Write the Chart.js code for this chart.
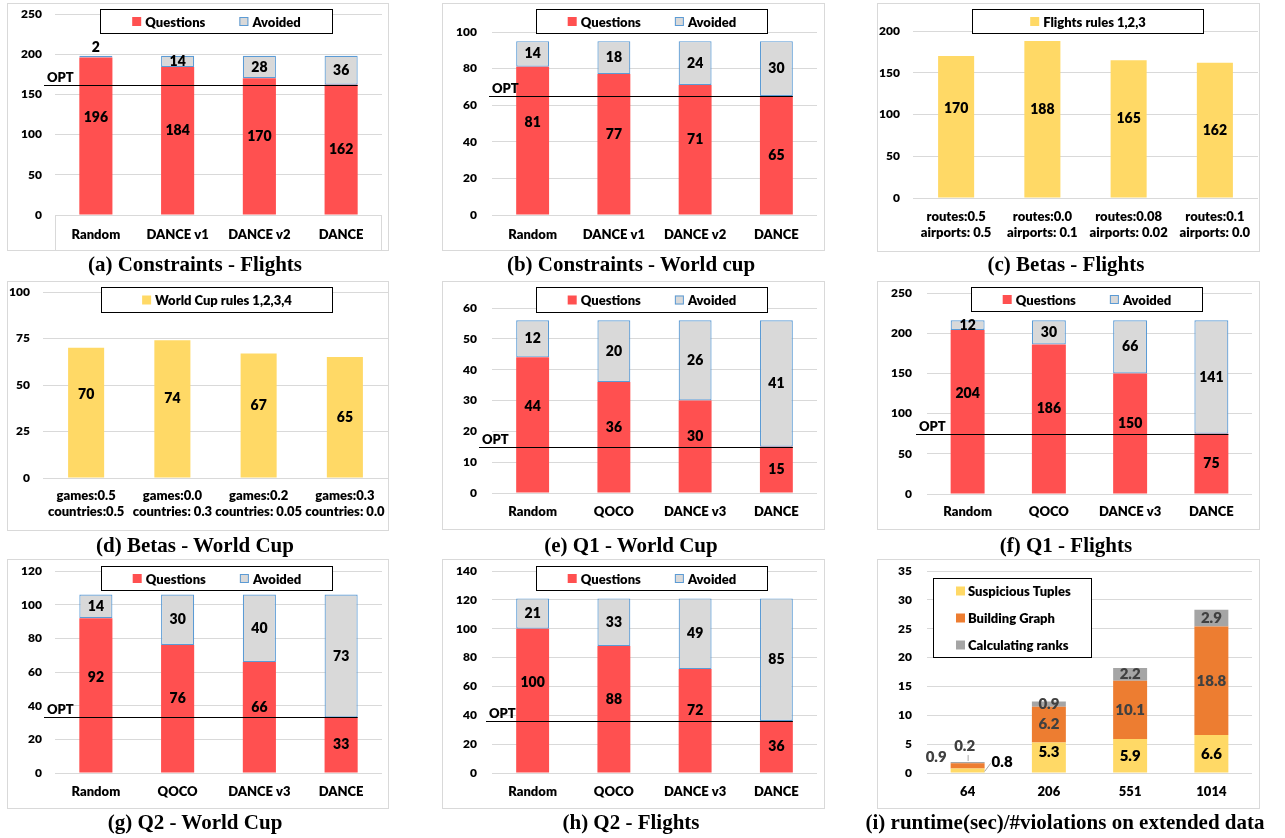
<!DOCTYPE html>
<html>
<head>
<meta charset="utf-8">
<script src="https://cdn.jsdelivr.net/npm/chart.js@4.4.1/dist/chart.umd.min.js"></script>
<style>
  html, body { margin: 0; padding: 0; background: #fff; }
  body { position: relative; width: 1285px; height: 838px; overflow: hidden; }
  canvas { position: absolute; }
  .frame { position: absolute; box-sizing: border-box; border: 1px solid #d9d9d9; pointer-events: none; }
  .cap { position: absolute; font: bold 21px "Liberation Serif", "DejaVu Serif", serif; line-height: 24px;
         color: #000; white-space: nowrap; transform: translateX(-50%); }
</style>
</head>
<body>
<script>
// ---- categories ----
const methodsConstraints = ['Random', 'DANCE v1', 'DANCE v2', 'DANCE'];
const methodsQueries = ['Random', 'QOCO', 'DANCE v3', 'DANCE'];
const betasFlights = [['routes:0.5', 'airports: 0.5'], ['routes:0.0', 'airports: 0.1'],
                      ['routes:0.08', 'airports: 0.02'], ['routes:0.1', 'airports: 0.0']];
const betasWorldCup = [['games:0.5', 'countries:0.5'], ['games:0.0', 'countries: 0.3'],
                       ['games:0.2', 'countries: 0.05'], ['games:0.3', 'countries: 0.0']];
const violations = ['64', '206', '551', '1014'];

// ---- series values ----
const constraintsFlightsQuestions = [196, 184, 170, 162];
const constraintsFlightsAvoided = [2, 14, 28, 36];
const constraintsFlightsOpt = 162;

const constraintsWorldCupQuestions = [81, 77, 71, 65];
const constraintsWorldCupAvoided = [14, 18, 24, 30];
const constraintsWorldCupOpt = 65;

const betasFlightsValues = [170, 188, 165, 162];
const betasWorldCupValues = [70, 74, 67, 65];

const q1WorldCupQuestions = [44, 36, 30, 15];
const q1WorldCupAvoided = [12, 20, 26, 41];
const q1WorldCupOpt = 15;

const q1FlightsQuestions = [204, 186, 150, 75];
const q1FlightsAvoided = [12, 30, 66, 141];
const q1FlightsOpt = 75;

const q2WorldCupQuestions = [92, 76, 66, 33];
const q2WorldCupAvoided = [14, 30, 40, 73];
const q2WorldCupOpt = 33;

const q2FlightsQuestions = [100, 88, 72, 36];
const q2FlightsAvoided = [21, 33, 49, 85];
const q2FlightsOpt = 36;

const runtimeSuspicious = [0.8, 5.3, 5.9, 6.6];
const runtimeGraph = [0.9, 6.2, 10.1, 18.8];
const runtimeRanks = [0.2, 0.9, 2.2, 2.9];

// ---- y-axis ticks (max, step) ----
const yConstraintsFlights = [250, 50];
const yConstraintsWorldCup = [100, 20];
const yBetasFlights = [200, 50];
const yBetasWorldCup = [100, 25];
const yQ1WorldCup = [60, 10];
const yQ1Flights = [250, 50];
const yQ2WorldCup = [120, 20];
const yQ2Flights = [140, 20];
const yRuntime = [35, 5];

// ---- colours & type ----
const GRID = '#d9d9d9';
const RED = '#ff5050', GREY = '#d9d9d9', BLUE = '#5b9bd5';
const GOLD = '#ffd966', ORANGE = '#ed7d31', ASH = '#a5a5a5';
const FONT = 'Lato, "Open Sans", sans-serif';
const W_HEAVY = 800;

function questionSets(q, a) {
  return [
    { label: 'Questions', data: q, backgroundColor: RED, borderWidth: 0, inflateAmount: 0 },
    { label: 'Avoided', data: a, backgroundColor: GREY, borderColor: BLUE, borderWidth: 1.2,
      borderSkipped: false, inflateAmount: 0 }
  ];
}

function drawLegend(chart, L, originX, originY) {
  const ctx = chart.ctx;
  const x0 = L.rect[0] - originX, y0 = L.rect[1] - originY;
  const x1 = L.rect[2] - originX, y1 = L.rect[3] - originY;
  ctx.fillStyle = '#fff';
  ctx.fillRect(x0, y0, x1 - x0, y1 - y0);
  ctx.strokeStyle = '#000';
  ctx.lineWidth = 1;
  ctx.strokeRect(x0 + 0.5, y0 + 0.5, x1 - x0 - 1, y1 - y0 - 1);
  ctx.font = `${W_HEAVY} 13px ${FONT}`;
  ctx.textBaseline = 'middle';
  ctx.textAlign = 'left';
  const items = chart.data.datasets.map(d => ({
    text: d.label, fill: d.backgroundColor, stroke: d.borderWidth ? d.borderColor : null
  }));
  const sw = 9;
  const swatch = (it, x, cy) => {
    ctx.fillStyle = it.fill;
    ctx.fillRect(x, cy - sw / 2, sw, sw);
    if (it.stroke) {
      ctx.strokeStyle = it.stroke;
      ctx.strokeRect(x + 0.5, cy - sw / 2 + 0.5, sw - 1, sw - 1);
    }
  };
  if (L.vertical) {
    items.forEach((it, k) => {
      const cy = y0 + L.rowTop + k * L.rowGap;
      swatch(it, x0 + L.swatchX, cy);
      ctx.fillStyle = '#000';
      ctx.fillText(it.text, x0 + L.textX, cy + 1);
    });
  } else {
    const gapText = 4, gapItem = 34;
    const widths = items.map(it => sw + gapText + ctx.measureText(it.text).width);
    const total = widths.reduce((s, w) => s + w, 0) + gapItem * (items.length - 1);
    let x = (x0 + x1) / 2 - total / 2;
    const cy = (y0 + y1) / 2;
    items.forEach((it, k) => {
      swatch(it, x, cy);
      ctx.fillStyle = '#000';
      ctx.fillText(it.text, x + sw + gapText, cy + 1);
      x += widths[k] + gapItem;
    });
  }
}

// OPT line, value labels, legend box and the category-axis frame
const decor = {
  id: 'decor',
  afterDatasetsDraw(chart, _args, o) {
    const ctx = chart.ctx, area = chart.chartArea, ys = chart.scales.y;
    ctx.save();
    if (o.axisBox) {
      ctx.strokeStyle = GRID;
      ctx.lineWidth = 1;
      ctx.beginPath();
      ctx.moveTo(area.left + 0.5, area.bottom);
      ctx.lineTo(area.left + 0.5, chart.height);
      ctx.moveTo(area.right - 0.5, area.bottom);
      ctx.lineTo(area.right - 0.5, chart.height);
      ctx.stroke();
    }
    if (o.opt != null) {
      const meta = chart.getDatasetMeta(0);
      const last = meta.data[meta.data.length - 1];
      const y = Math.round(ys.getPixelForValue(o.opt)) + 0.5;
      const xs = area.left + o.optStart;
      ctx.strokeStyle = '#000';
      ctx.lineWidth = 1;
      ctx.beginPath();
      ctx.moveTo(xs, y);
      ctx.lineTo(last.x + last.width / 2, y);
      ctx.stroke();
      ctx.fillStyle = '#000';
      ctx.font = `${W_HEAVY} 13px ${FONT}`;
      ctx.textAlign = 'left';
      ctx.textBaseline = 'alphabetic';
      ctx.fillText('OPT', xs + 3, y - 4);
    }
    ctx.font = o.labelFont;
    ctx.textBaseline = 'middle';
    chart.data.datasets.forEach((ds, di) => {
      const meta = chart.getDatasetMeta(di);
      meta.data.forEach((bar, i) => {
        const v = ds.data[i];
        const top = Math.min(bar.y, bar.base), bot = Math.max(bar.y, bar.base);
        const cx = bar.x, cy = (top + bot) / 2, half = bar.width / 2;
        const txt = o.decimals ? v.toFixed(o.decimals) : String(v);
        ctx.fillStyle = o.labelColors[di];
        const outside = o.outsideCats ? o.outsideCats.includes(i) : (bot - top < 6);
        if (!outside) {
          const lift = (o.lift && o.lift[di]) ? o.lift[di][i] : 0;
          ctx.textAlign = 'center';
          ctx.fillText(txt, cx, cy - lift);
          return;
        }
        const side = (o.outside && o.outside[di]) || 'above';
        ctx.strokeStyle = '#a6a6a6';
        ctx.lineWidth = 1;
        if (side === 'above') {
          ctx.textAlign = 'center';
          ctx.fillText(txt, cx, top - 8);
        } else if (side === 'aboveLeader') {
          ctx.beginPath();
          ctx.moveTo(cx + 0.5, top - 1);
          ctx.lineTo(cx + 0.5, top - 7);
          ctx.stroke();
          ctx.textAlign = 'center';
          ctx.fillText(txt, cx - 3, top - 16);
        } else if (side === 'rightLeader') {
          ctx.beginPath();
          ctx.moveTo(cx + half, cy + 1);
          ctx.lineTo(cx + half + 6, cy - 7);
          ctx.stroke();
          ctx.textAlign = 'left';
          ctx.fillText(txt, cx + half + 7, cy - 8);
        } else if (side === 'left') {
          ctx.textAlign = 'right';
          ctx.fillText(txt, cx - half - 4, cy - 9);
        }
      });
    });
    if (o.legend) drawLegend(chart, o.legend, o.originX, o.originY);
    ctx.restore();
  }
};

function panel(s) {
  const [bx0, by0, bx1, by1] = s.box;
  const [px0, py0, px1, py1] = s.plot;
  const W = bx1 - bx0, H = by1 - by0;

  const cv = document.createElement('canvas');
  cv.width = W; cv.height = H;
  cv.style.cssText = `left:${bx0}px;top:${by0}px;width:${W}px;height:${H}px`;
  document.body.appendChild(cv);

  const fr = document.createElement('div');
  fr.className = 'frame';
  fr.style.cssText = `left:${bx0}px;top:${by0}px;width:${W + 1}px;height:${H + 1}px`;
  document.body.appendChild(fr);

  const cap = document.createElement('div');
  cap.className = 'cap';
  cap.textContent = s.caption;
  cap.style.left = s.capAt[0] + 'px';
  cap.style.top = (s.capAt[1] - 12) + 'px';
  document.body.appendChild(cap);

  new Chart(cv, {
    type: 'bar',
    data: { labels: s.labels, datasets: s.datasets },
    options: {
      responsive: false,
      animation: false,
      devicePixelRatio: 1,
      layout: { padding: { left: 0, right: bx1 - px1, top: py0 - by0, bottom: 0 } },
      datasets: { bar: { barPercentage: s.barPct, categoryPercentage: 1, inflateAmount: 0 } },
      plugins: {
        legend: { display: false },
        tooltip: { enabled: false },
        decor: Object.assign({ originX: bx0, originY: by0 }, s.decor)
      },
      scales: {
        x: {
          stacked: true,
          grid: { display: false, drawTicks: false },
          border: { display: false },
          ticks: {
            color: '#000', padding: s.xPad, maxRotation: 0, autoSkip: false,
            font: { family: FONT, weight: W_HEAVY, size: 13, lineHeight: 1.2 }
          },
          afterFit(sc) { sc.height = by1 - py1; sc.paddingLeft = 0; sc.paddingRight = 0; }
        },
        y: {
          stacked: true,
          min: 0,
          max: s.y[0],
          grid: { color: GRID, lineWidth: 1, drawTicks: false },
          border: { display: false },
          ticks: {
            stepSize: s.y[1], color: '#000', padding: s.tickPad,
            font: { family: FONT, weight: W_HEAVY, size: 12 }
          },
          afterFit(sc) { sc.width = px0 - bx0; sc.paddingTop = 0; sc.paddingBottom = 0; }
        }
      }
    },
    plugins: [decor]
  });
}

const QLIFT = [[18, 10, 10, 0]];
const QCOLORS = ['#000', '#000'];
const LABEL14 = `${W_HEAVY} 14px ${FONT}`;

function build() {
  panel({
    caption: '(a) Constraints - Flights', capAt: [195, 264],
    box: [7, 3, 388, 250], plot: [55, 14, 382, 215], tickPad: 13, xPad: 12, barPct: 0.405,
    labels: methodsConstraints, y: yConstraintsFlights,
    datasets: questionSets(constraintsFlightsQuestions, constraintsFlightsAvoided),
    decor: { opt: constraintsFlightsOpt, optStart: -11, lift: QLIFT, labelColors: QCOLORS, labelFont: LABEL14,
             axisBox: true, legend: { rect: [100, 9, 333, 34] } }
  });
  panel({
    caption: '(b) Constraints - World cup', capAt: [631, 264],
    box: [442, 3, 824, 250], plot: [492, 32, 817, 215], tickPad: 15, xPad: 12, barPct: 0.405,
    labels: methodsConstraints, y: yConstraintsWorldCup,
    datasets: questionSets(constraintsWorldCupQuestions, constraintsWorldCupAvoided),
    decor: { opt: constraintsWorldCupOpt, optStart: -3, lift: QLIFT, labelColors: QCOLORS, labelFont: LABEL14,
             legend: { rect: [536, 9, 768, 34] } }
  });
  panel({
    caption: '(c) Betas - Flights', capAt: [1066, 264],
    box: [877, 3, 1259, 251], plot: [913, 31, 1258, 198], tickPad: 13, xPad: 11, barPct: 0.418,
    labels: betasFlights, y: yBetasFlights,
    datasets: [{ label: 'Flights rules 1,2,3', data: betasFlightsValues, backgroundColor: GOLD, borderWidth: 0 }],
    decor: { lift: QLIFT, labelColors: QCOLORS, labelFont: LABEL14, legend: { rect: [972, 9, 1204, 34] } }
  });
  panel({
    caption: '(d) Betas - World Cup', capAt: [195, 545],
    box: [7, 281, 388, 530], plot: [43, 292, 388, 478], tickPad: 13, xPad: 10, barPct: 0.418,
    labels: betasWorldCup, y: yBetasWorldCup,
    datasets: [{ label: 'World Cup rules 1,2,3,4', data: betasWorldCupValues, backgroundColor: GOLD, borderWidth: 0 }],
    decor: { lift: QLIFT, labelColors: QCOLORS, labelFont: LABEL14, legend: { rect: [101, 287, 333, 313] } }
  });
  panel({
    caption: '(e) Q1 - World Cup', capAt: [631, 545],
    box: [442, 281, 824, 529], plot: [492, 308, 817, 493], tickPad: 15, xPad: 11, barPct: 0.405,
    labels: methodsQueries, y: yQ1WorldCup,
    datasets: questionSets(q1WorldCupQuestions, q1WorldCupAvoided),
    decor: { opt: q1WorldCupOpt, optStart: -13, lift: QLIFT, labelColors: QCOLORS, labelFont: LABEL14,
             legend: { rect: [536, 287, 768, 313] } }
  });
  panel({
    caption: '(f) Q1 - Flights', capAt: [1066, 545],
    box: [877, 281, 1259, 529], plot: [927, 293, 1252, 494], tickPad: 15, xPad: 10, barPct: 0.418,
    labels: methodsQueries, y: yQ1Flights,
    datasets: questionSets(q1FlightsQuestions, q1FlightsAvoided),
    decor: { opt: q1FlightsOpt, optStart: -11, lift: QLIFT, labelColors: QCOLORS, labelFont: LABEL14,
             legend: { rect: [971, 287, 1203, 312] } }
  });
  panel({
    caption: '(g) Q2 - World Cup', capAt: [195, 822],
    box: [7, 559, 388, 808], plot: [55, 571, 382, 773], tickPad: 13, xPad: 11, barPct: 0.405,
    labels: methodsQueries, y: yQ2WorldCup,
    datasets: questionSets(q2WorldCupQuestions, q2WorldCupAvoided),
    decor: { opt: q2WorldCupOpt, optStart: -11, lift: QLIFT, labelColors: QCOLORS, labelFont: LABEL14,
             legend: { rect: [101, 566, 333, 591] } }
  });
  panel({
    caption: '(h) Q2 - Flights', capAt: [631, 822],
    box: [442, 559, 824, 808], plot: [492, 571, 817, 773], tickPad: 15, xPad: 11, barPct: 0.405,
    labels: methodsQueries, y: yQ2Flights,
    datasets: questionSets(q2FlightsQuestions, q2FlightsAvoided),
    decor: { opt: q2FlightsOpt, optStart: -6, lift: QLIFT, labelColors: QCOLORS, labelFont: LABEL14,
             legend: { rect: [536, 566, 768, 591] } }
  });
  panel({
    caption: '(i) runtime(sec)/#violations on extended data', capAt: [1065, 822],
    box: [877, 559, 1259, 808], plot: [927, 571, 1252, 773], tickPad: 15, xPad: 11, barPct: 0.418,
    labels: violations, y: yRuntime,
    datasets: [
      { label: 'Suspicious Tuples', data: runtimeSuspicious, backgroundColor: GOLD, borderWidth: 0 },
      { label: 'Building Graph', data: runtimeGraph, backgroundColor: ORANGE, borderWidth: 0 },
      { label: 'Calculating ranks', data: runtimeRanks, backgroundColor: ASH, borderWidth: 0 }
    ],
    decor: { decimals: 1, lift: [[0, 5, 0, 0]], labelColors: ['#000', '#404040', '#404040'],
             labelFont: `${W_HEAVY} 15px ${FONT}`, outsideCats: [0], outside: ['rightLeader', 'left', 'aboveLeader'],
             legend: { rect: [933, 578, 1092, 658], vertical: true, rowTop: 13, rowGap: 27, swatchX: 23, textX: 35 } }
  });
}

if (document.fonts && document.fonts.load) {
  Promise.all([
    document.fonts.load(`${W_HEAVY} 13px Lato`),
    document.fonts.load('bold 21px "Liberation Serif"')
  ]).then(build, build);
} else {
  build();
}
</script>
</body>
</html>
